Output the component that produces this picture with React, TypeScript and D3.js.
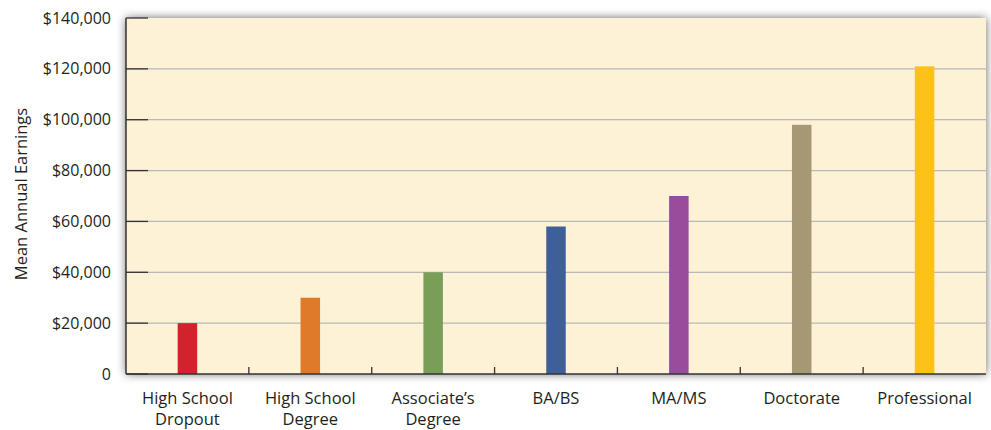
import React from "react";
import * as d3 from "d3";

const categories: string[][] = [
  ["High School", "Dropout"],
  ["High School", "Degree"],
  ["Associate’s", "Degree"],
  ["BA/BS"],
  ["MA/MS"],
  ["Doctorate"],
  ["Professional"],
];
const values: number[] = [20000, 30000, 40000, 58000, 70000, 98000, 121000];
const colors: string[] = ["#d3212e", "#e07a2b", "#799e58", "#3e5f98", "#974d9c", "#a69874", "#fdc217"];
const yTicks: number[] = [0, 20000, 40000, 60000, 80000, 100000, 120000, 140000];
const yTitle = "Mean Annual Earnings";

const W = 991, H = 430;
const left = 126, right = 986, top = 18, bottom = 374;
const font = "'Open Sans', 'Noto Sans', sans-serif";

export default function App() {
  const x = d3.scaleBand<number>().domain(d3.range(categories.length)).range([left, right]).paddingInner(0).paddingOuter(0);
  const y = d3.scaleLinear().domain([0, 140000]).range([bottom, top]);
  const barW = 19.5;
  const fmt = (v: number) => (v === 0 ? "0" : "$" + d3.format(",")(v));
  return (
    <svg width={W} height={H} style={{ position: "absolute", left: 0, top: 0 }}>
      <defs>
        <filter id="sh" x="-5%" y="-10%" width="110%" height="120%">
          <feDropShadow dx="0" dy="0" stdDeviation="5" floodColor="#000" floodOpacity="0.6" />
        </filter>
      </defs>
      <rect x={0} y={0} width={W} height={H} fill="#fff" />
      <rect x={left} y={top} width={right - left} height={bottom - top} fill="#fdf1d6" filter="url(#sh)" />
      {yTicks.map((t) => (
        <g key={t}>
          {t > 0 && t < 140000 && (
            <line x1={left} x2={right} y1={y(t)} y2={y(t)} stroke="#b9b9b9" strokeWidth={1.3} />
          )}
          <line x1={left} x2={left + 22} y1={y(t)} y2={y(t)} stroke="#333" strokeWidth={1.3} />
          <text x={111} y={y(t)} dy="0.35em" textAnchor="end" fontFamily={font} fontSize={16} fill="#231f20">
            {fmt(t)}
          </text>
        </g>
      ))}
      {values.map((v, i) => (
        <rect
          key={i}
          x={(x(i) as number) + x.bandwidth() / 2 - barW / 2}
          y={y(v)}
          width={barW}
          height={bottom - y(v)}
          fill={colors[i]}
        />
      ))}
      {d3.range(1, categories.length).map((i) => (
        <line key={i} x1={x(i) as number} x2={x(i) as number} y1={bottom} y2={bottom - 7} stroke="#333" strokeWidth={1.3} />
      ))}
      <line x1={left} x2={left} y1={top} y2={bottom} stroke="#333" strokeWidth={1.5} />
      <line x1={left} x2={right} y1={bottom} y2={bottom} stroke="#333" strokeWidth={1.5} />
      {categories.map((lines, i) => (
        <text key={i} textAnchor="middle" fontFamily={font} fontSize={16.5} fill="#231f20">
          {lines.map((l, j) => (
            <tspan key={j} x={(x(i) as number) + x.bandwidth() / 2} y={404 + j * 21}>
              {l}
            </tspan>
          ))}
        </text>
      ))}
      <text
        transform={`translate(27,${194}) rotate(-90)`}
        textAnchor="middle"
        fontFamily={font}
        fontSize={16.5}
        fill="#231f20"
      >
        {yTitle}
      </text>
    </svg>
  );
}
